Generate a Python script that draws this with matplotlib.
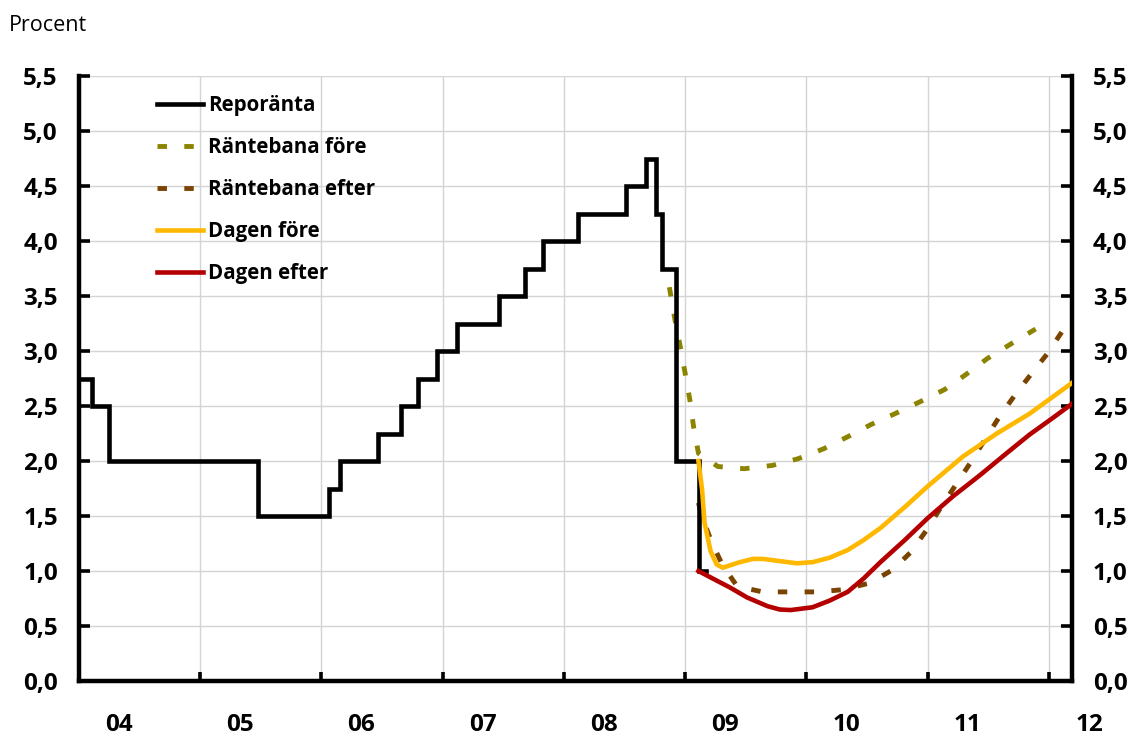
import matplotlib
matplotlib.use('Agg')
import matplotlib.pyplot as plt
import matplotlib.transforms as mtransforms
from datetime import date

# ---------------- data ----------------
repo_dates = ['2003-07-09', '2004-02-11', '2004-04-01', '2005-06-24', '2006-01-23',
              '2006-02-27', '2006-06-21', '2006-08-30', '2006-10-20', '2006-12-15',
              '2007-02-14', '2007-06-20', '2007-09-07', '2007-10-30', '2008-02-13',
              '2008-07-07', '2008-09-05', '2008-10-05', '2008-10-23', '2008-12-04',
              '2009-02-11']
repo_values = [2.75, 2.50, 2.00, 1.50, 1.75, 2.00, 2.25, 2.50, 2.75, 3.00, 3.25, 3.50,
               3.75, 4.00, 4.25, 4.50, 4.75, 4.25, 3.75, 2.00, 1.00]
repo_end = '2009-03-06'

fore_x = [2008.87, 2008.92, 2008.96, 2009.00, 2009.04, 2009.07, 2009.11, 2009.27,
          2009.49, 2009.72, 2009.93, 2010.14, 2010.34, 2010.53, 2010.73, 2010.94,
          2011.14, 2011.32, 2011.49, 2011.68, 2011.86, 2011.89]
fore_y = [3.58, 3.26, 3.04, 2.80, 2.55, 2.31, 2.07, 1.95, 1.93, 1.96, 2.02, 2.11,
          2.22, 2.33, 2.43, 2.54, 2.65, 2.79, 2.93, 3.06, 3.18, 3.20]

efter_x = [2009.11, 2009.14, 2009.22, 2009.31, 2009.43, 2009.64, 2009.87, 2010.09,
           2010.30, 2010.52, 2010.71, 2010.86, 2010.99, 2011.11, 2011.23, 2011.35,
           2011.47, 2011.59, 2011.72, 2011.86, 2011.99, 2012.11, 2012.19]
efter_y = [1.62, 1.49, 1.26, 1.05, 0.86, 0.81, 0.81, 0.81, 0.83, 0.89, 1.01, 1.17,
           1.37, 1.58, 1.78, 1.98, 2.19, 2.40, 2.60, 2.80, 2.98, 3.18, 3.27]

dfore_x = [2009.11, 2009.14, 2009.16, 2009.21, 2009.26, 2009.31, 2009.45, 2009.56,
           2009.64, 2009.78, 2009.92, 2010.05, 2010.19, 2010.34, 2010.47, 2010.61,
           2010.81, 2011.00, 2011.29, 2011.57, 2011.84, 2012.19]
dfore_y = [2.00, 1.74, 1.44, 1.18, 1.06, 1.03, 1.08, 1.11, 1.11, 1.09, 1.07, 1.08,
           1.12, 1.19, 1.28, 1.39, 1.58, 1.77, 2.04, 2.25, 2.43, 2.71]

defter_x = [2009.11, 2009.23, 2009.37, 2009.51, 2009.68, 2009.78, 2009.87, 2010.05,
            2010.19, 2010.34, 2010.47, 2010.61, 2010.81, 2011.00, 2011.21, 2011.43,
            2011.65, 2011.84, 2012.03, 2012.19]
defter_y = [1.00, 0.93, 0.85, 0.76, 0.68, 0.65, 0.645, 0.67, 0.73, 0.81, 0.93, 1.08,
            1.28, 1.48, 1.68, 1.87, 2.07, 2.24, 2.39, 2.52]

year_ticks = [2005, 2006, 2007, 2008, 2009, 2010, 2011, 2012]
year_labels = ['04', '05', '06', '07', '08', '09', '10', '11', '12']
year_label_pos = [2004, 2005, 2006, 2007, 2008, 2009, 2010, 2011, 2012]
y_ticks = [0.0, 0.5, 1.0, 1.5, 2.0, 2.5, 3.0, 3.5, 4.0, 4.5, 5.0, 5.5]

labels = ['Reporänta', 'Räntebana före', 'Räntebana efter', 'Dagen före', 'Dagen efter']


def dec_year(s):
    d = date.fromisoformat(s)
    start = date(d.year, 1, 1)
    n = (date(d.year + 1, 1, 1) - start).days
    return d.year + (d - start).days / n


# ---------------- style ----------------
plt.rcParams['font.family'] = ['Open Sans', 'DejaVu Sans']
BLACK = '#000000'
OLIVE = '#8C8300'
BROWN = '#7A4400'
YELLOW = '#FFB800'
RED = '#B40000'

fig = plt.figure(figsize=(11.37, 7.36), dpi=100)
ax = fig.add_axes([78.7 / 1137, 1 - 681 / 736, (1072 - 78.7) / 1137, (681 - 76) / 736])

rx = [dec_year(s) for s in repo_dates] + [dec_year(repo_end)]
ry = repo_values + [repo_values[-1]]

lw = 3.3
dlw = 3.5
dash = (6.8 / dlw, 12.5 / dlw)

ax.plot(fore_x, fore_y, color=OLIVE, lw=dlw, dashes=dash, zorder=2, label=labels[1])
ax.plot(efter_x, efter_y, color=BROWN, lw=dlw, dashes=dash, zorder=2.1, label=labels[2])
ax.step(rx, ry, where='post', color=BLACK, lw=lw, zorder=3, label=labels[0],
        solid_joinstyle='miter')
ax.plot(dfore_x, dfore_y, color=YELLOW, lw=lw, zorder=4, label=labels[3],
        solid_joinstyle='round')
ax.plot(defter_x, defter_y, color=RED, lw=lw, zorder=5, label=labels[4],
        solid_joinstyle='round')

ax.set_xlim(2004.0, 2012.19)
ax.set_ylim(0, 5.5)

ax.set_xticks(year_ticks)
ax.set_xticklabels([])
ax.set_yticks(y_ticks)
ax.set_yticklabels([f'{v:.1f}'.replace('.', ',') for v in y_ticks])

ax.grid(True, color='#D4D4D4', lw=1.0, zorder=0)
ax.set_axisbelow(True)

for side in ['left', 'right', 'bottom']:
    ax.spines[side].set_linewidth(3.2)
    ax.spines[side].set_color(BLACK)
ax.spines['top'].set_visible(False)

ax.tick_params(axis='y', direction='in', length=8, width=2.6, labelsize=17.5,
               left=True, right=True, labelleft=True, labelright=True, pad=15)
ax.tick_params(axis='x', direction='in', length=6.5, width=2.6)
for t in ax.get_yticklabels():
    t.set_fontweight('bold')

trans = mtransforms.blended_transform_factory(ax.transData, ax.transAxes)
for pos, lab in zip(year_label_pos, year_labels):
    ax.text(pos + 0.33, -0.0826, lab, transform=trans, ha='center', va='baseline',
            fontsize=17.5, fontweight='bold', clip_on=False)

fig.text(9 / 1137, 1 - 31 / 736, 'Procent', fontsize=15.5, va='baseline', ha='left')

handles, labs = ax.get_legend_handles_labels()
order = [labs.index(l) for l in labels]
leg = ax.legend([handles[i] for i in order], [labs[i] for i in order],
                loc='upper left', bbox_to_anchor=(0.0788, 0.968), frameon=False,
                borderpad=0, borderaxespad=0, handlelength=2.25, handletextpad=0.25,
                labelspacing=1.02, prop={'size': 14.8, 'weight': 'bold'})

fig.savefig('out.png', dpi=100)
